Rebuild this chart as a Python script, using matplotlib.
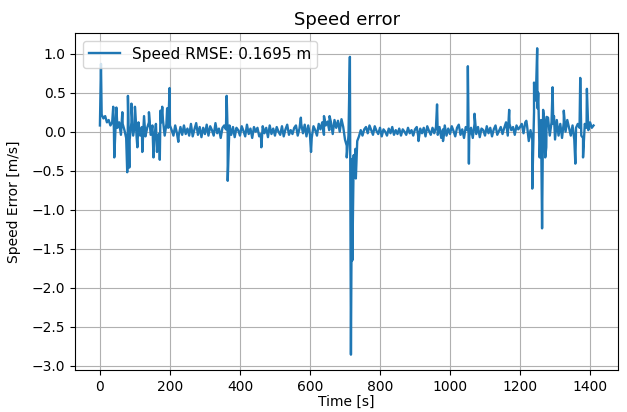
import numpy as np
import matplotlib.pyplot as plt

# background speed error, one sample every 5 s from t = 0
dt = 5
base_err = [
    0.08, 0.22, 0.17, 0.20, 0.12, 0.15, 0.08, 0.12, 0.02, 0.10,
    0.05, 0.12, -0.04, 0.10, 0.02, -0.08, 0.15, -0.10, 0.12, -0.05,
    0.10, -0.08, 0.12, -0.05, 0.06, 0.10, -0.06, 0.05, 0.12, -0.04,
    0.08, -0.10, 0.10, -0.06, -0.02, 0.12, 0.15, -0.05, 0.10, 0.05,
    0.08, 0.02, -0.05, 0.08, -0.02, -0.05, 0.06, -0.04, 0.08, -0.03,
    0.04, -0.05, 0.10, -0.06, 0.03, 0.11, -0.04, 0.06, -0.07, 0.05,
    -0.03, 0.09, -0.05, 0.07, 0.02, -0.05, 0.11, -0.02, 0.04, -0.08,
    0.05, 0.08, 0.03, -0.04, 0.08, -0.04, 0.06, -0.07, 0.05, 0.02,
    -0.05, 0.07, 0.01, -0.06, 0.09, -0.03, 0.04, -0.08, 0.06, 0.00,
    0.05, -0.06, -0.03, 0.07, -0.02, 0.05, -0.07, 0.08, -0.03, 0.04,
    -0.05, 0.06, 0.00, -0.04, 0.07, -0.06, 0.03, 0.09, -0.04, 0.02,
    -0.03, 0.05, 0.08, -0.05, 0.04, 0.10, -0.02, 0.09, -0.06, 0.08,
    -0.04, -0.08, 0.07, 0.02, -0.05, 0.10, 0.03, 0.12, -0.04, 0.08,
    0.13, 0.02, 0.12, -0.03, 0.15, 0.05, 0.14, 0.00, 0.16, 0.06,
    -0.10, -0.18, -0.05, -0.20, -0.35, -0.30, -0.22, -0.12, -0.06, 0.02,
    -0.05, 0.03, 0.06, -0.02, 0.08, 0.02, -0.04, 0.07, 0.01, -0.03,
    0.05, -0.06, 0.03, 0.00, -0.05, 0.04, -0.02, 0.06, -0.04, 0.02,
    -0.03, 0.04, -0.05, 0.03, 0.00, -0.04, 0.05, -0.02, 0.02, -0.05,
    0.03, 0.06, -0.08, 0.04, -0.02, 0.05, -0.06, 0.07, 0.01, -0.04,
    0.05, -0.02, 0.06, -0.04, 0.06, -0.08, 0.03, 0.08, -0.05, 0.04,
    -0.03, 0.07, 0.01, -0.06, 0.05, 0.09, -0.04, 0.03, -0.08, 0.06,
    0.02, -0.06, 0.05, -0.08, 0.10, -0.03, 0.06, -0.07, 0.04, 0.02,
    -0.05, 0.07, -0.02, 0.05, -0.06, 0.03, 0.08, -0.04, 0.01, 0.06,
    -0.03, 0.05, 0.12, -0.05, 0.10, 0.02, 0.06, -0.04, 0.08, 0.03,
    0.06, 0.10, -0.02, 0.12, 0.08, -0.12, 0.02, -0.10, 0.25, 0.40,
    0.30, -0.15, 0.15, -0.30, 0.12, -0.20, 0.18, -0.05, 0.12, 0.10,
    -0.10, 0.15, -0.05, 0.10, -0.08, 0.12, 0.00, 0.15, 0.05, -0.05,
    0.08, -0.10, 0.05, 0.10, 0.05, -0.05, -0.08, 0.10, 0.05, 0.02,
    0.12, 0.05, 0.08,
]

# short spikes [s], [m/s]
spike_t = [3, 38, 41, 47, 64, 78, 80, 84, 90, 100, 107, 121, 126, 140, 153,
           163, 171, 173, 178, 192, 199, 224, 362, 365, 461, 574, 603, 640,
           656, 705, 714, 717, 721, 725, 731, 910, 963, 980, 1051, 1054,
           1070, 1169, 1218, 1235, 1240, 1249, 1252, 1256, 1263, 1266, 1272,
           1276, 1293, 1297, 1325, 1358, 1372, 1380, 1391]
spike_v = [0.87, 0.32, -0.33, 0.31, 0.25, -0.52, 0.46, -0.46, 0.36, 0.32,
           -0.20, -0.26, 0.20, 0.25, -0.33, -0.26, -0.36, 0.27, 0.32, 0.30,
           0.56, -0.13, 0.46, -0.63, -0.20, 0.18, -0.26, 0.20, 0.20, -0.33,
           0.96, -2.86, -1.65, -0.56, -0.60, -0.12, 0.35, -0.12, 0.84, -0.41,
           0.23, 0.28, 0.14, -0.73, 0.63, 1.07, 0.50, -0.33, -1.24, 0.28,
           -0.33, 0.19, 0.57, 0.20, 0.27, -0.41, 0.69, -0.33, 0.55]

rmse_label = 'Speed RMSE: 0.1695 m'

t_base = np.arange(len(base_err)) * dt
t = np.concatenate([t_base, spike_t])
v = np.concatenate([base_err, spike_v])
order = np.argsort(t, kind='stable')
t, v = t[order], v[order]

fig, ax = plt.subplots(figsize=(6.27, 4.12), dpi=100)
fig.subplots_adjust(left=0.12, right=0.986, top=0.92, bottom=0.102)
ax.plot(t, v, color='C0', linewidth=1.7, label=rmse_label)
ax.set_title('Speed error', fontsize=13)
ax.set_xlabel('Time [s]', fontsize=10, labelpad=1)
ax.set_ylabel('Speed Error [m/s]', fontsize=10, labelpad=8)
ax.legend(loc='upper left', fontsize=11)
ax.grid()
fig.savefig('out.png')
